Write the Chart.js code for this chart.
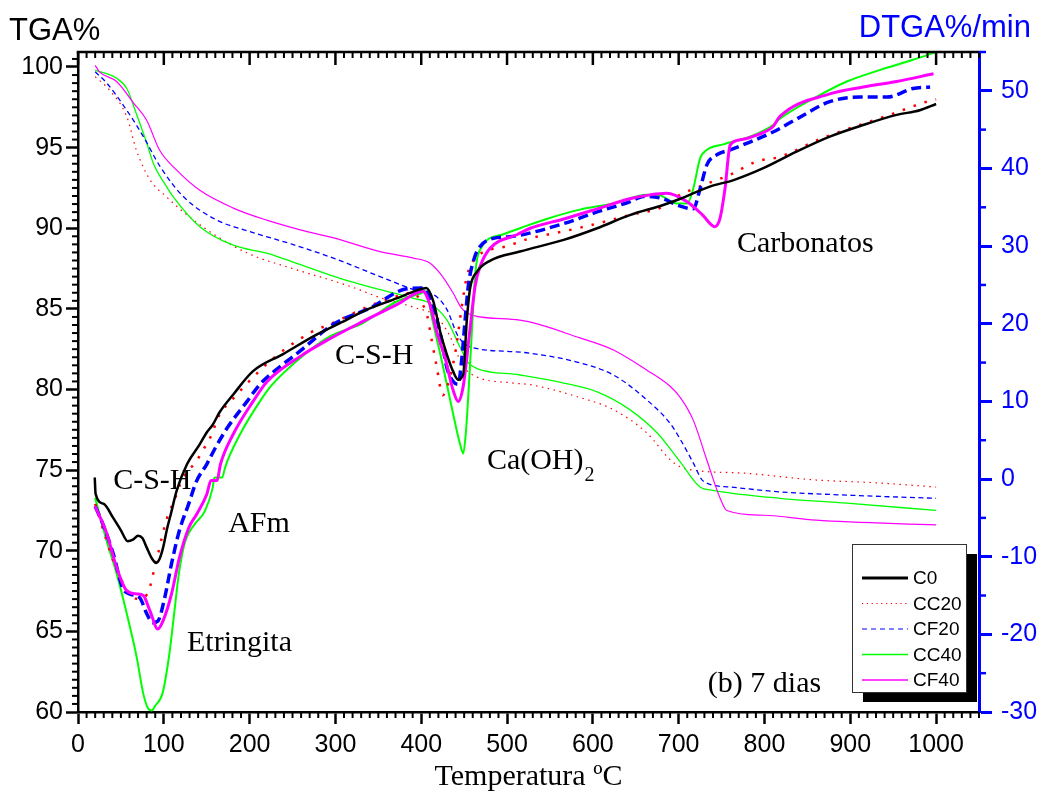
<!DOCTYPE html>
<html>
<head>
<meta charset="utf-8">
<title>TGA / DTGA - 7 dias</title>
<script src="https://cdn.jsdelivr.net/npm/chart.js@4"></script>
<style>
  html, body { margin: 0; padding: 0; background: #fff; }
</style>
</head>
<body>
<canvas id="tgaChart" width="1045" height="798"></canvas>
<script>
// mixes
const seriesNames = ['C0', 'CC20', 'CF20', 'CC40', 'CF40'];

// DTGA (%/min) per mix, right axis
const dtgaTempC0 = [19.5, 20.5, 30, 41, 50, 58, 64, 70, 75, 80, 86, 91, 95, 99, 104, 108, 115, 127, 142, 150, 157, 165, 181, 204, 239, 278, 313, 332, 372, 395, 406, 414, 422, 430, 437, 443, 449, 453, 457, 465, 480, 515, 566, 605, 643, 682, 702, 737, 764, 798, 838, 876, 915, 954, 981, 1000];
const dtgaC0 = [0.2, -1.9, -3.2, -5.0, -6.6, -8.0, -7.8, -7.3, -7.6, -8.8, -10.2, -10.8, -10.3, -8.9, -6.3, -4.6, -1.5, 1.9, 4.5, 6.0, 7.0, 8.6, 10.9, 13.9, 16.1, 18.6, 20.5, 21.6, 23.3, 24.3, 24.6, 22.9, 19.0, 16.0, 13.9, 12.8, 13.5, 20.3, 24.6, 26.7, 28.1, 29.3, 30.8, 32.3, 34.0, 35.3, 36.1, 37.7, 38.5, 40.0, 42.2, 44.1, 45.6, 46.9, 47.5, 48.3];

const dtgaTempCC20 = [20, 31, 41, 51, 60, 68, 76, 82, 86, 90, 94, 98, 102, 106, 111, 122, 138, 146, 154, 165, 181, 224, 270, 297, 340, 370, 390, 400, 407, 412, 418, 425, 432, 440, 447, 453, 462, 500, 527, 566, 605, 643, 682, 698, 725, 760, 791, 818, 865, 911, 946, 989, 1000];
const dtgaCC20 = [-3.2, -7.1, -10.5, -13.1, -14.8, -15.4, -15.3, -14.5, -13.0, -11.0, -9.3, -7.4, -5.7, -4.3, -3.1, 0.1, 2.3, 3.8, 5.3, 8.3, 10.4, 15.2, 18.8, 20.1, 22.3, 23.5, 24.0, 22.8, 21.0, 18.0, 14.5, 10.8, 12.5, 16.5, 22.0, 26.0, 28.3, 30.0, 31.0, 31.9, 32.9, 34.0, 35.1, 36.4, 37.7, 39.2, 40.9, 41.5, 43.8, 45.6, 46.9, 48.6, 48.9];

const dtgaTempCF20 = [20, 29, 41, 52, 60, 72, 80, 87, 93, 101, 109, 118, 129, 138, 150, 160, 174, 197, 212, 230, 259, 297, 340, 383, 402, 410, 418, 424, 430, 437, 443, 447, 451, 455, 462, 469, 484, 503, 566, 605, 643, 659, 682, 698, 717, 725, 733, 745, 760, 783, 810, 838, 876, 911, 943, 973, 993];
const dtgaCF20 = [-3.5, -5.8, -9.6, -14.0, -14.8, -15.3, -17.3, -18.5, -18.3, -15.3, -10.9, -6.7, -3.2, -0.3, 1.9, 4.0, 6.6, 10.0, 12.2, 14.0, 16.5, 19.9, 22.0, 24.5, 24.6, 23.3, 20.7, 17.7, 14.3, 12.6, 12.2, 15.2, 20.3, 25.0, 28.5, 30.0, 31.0, 31.2, 32.9, 34.4, 35.7, 36.4, 36.1, 35.3, 34.8, 37.4, 40.5, 41.8, 42.4, 43.4, 44.7, 46.4, 48.6, 49.2, 49.2, 50.3, 50.5];

const dtgaTempCC40 = [20, 33.5, 45, 57, 68.5, 76, 82, 86, 90, 98.5, 106.5, 112, 117.5, 125, 136, 148, 157, 159, 168, 171, 174, 189, 212, 225, 259, 294, 332, 372, 399, 406, 412, 424, 436, 445, 449, 452, 455, 459, 463, 470, 495, 515, 546, 585, 624, 663, 675, 698, 710, 717, 725, 733, 752, 783, 810, 818, 857, 896, 935, 973, 1000];
const dtgaCC40 = [-2.4, -8.0, -12.2, -17.4, -23.0, -27.6, -29.6, -29.8, -29.2, -27.6, -22.5, -17.4, -12.2, -8.0, -5.8, -4.1, -1.1, 0.2, 0.2, 1.3, 2.3, 5.8, 10.0, 12.0, 15.6, 18.4, 20.1, 22.9, 23.9, 24.2, 21.0, 15.2, 9.0, 4.6, 3.3, 6.0, 11.0, 19.0, 26.5, 29.8, 31.5, 32.3, 33.5, 34.7, 35.5, 36.6, 36.6, 35.5, 35.5, 37.4, 41.3, 42.4, 43.1, 44.1, 45.6, 46.4, 49.0, 51.2, 52.7, 54.0, 55.0];

const dtgaTempCF40 = [20, 33.5, 45, 57, 68.5, 76, 84, 93, 99, 109, 118, 129, 138.5, 150, 155, 162, 166, 181, 204, 220, 259, 294, 332, 372, 402, 410, 418, 428, 437, 443, 449, 456, 463, 469, 480, 512, 527, 566, 605, 643, 667, 686, 710, 728, 742, 748, 754, 760, 772, 791, 810, 818, 876, 915, 954, 997];
const dtgaCF40 = [-3.5, -7.0, -11.4, -14.4, -14.8, -15.0, -17.0, -19.3, -18.3, -14.8, -10.2, -6.3, -4.5, -2.0, -0.2, -0.2, 1.9, 5.8, 10.0, 12.5, 15.8, 18.1, 20.3, 22.5, 24.2, 22.5, 19.0, 15.5, 11.5, 10.0, 12.0, 18.5, 25.0, 27.5, 29.7, 31.5, 32.3, 33.5, 34.8, 36.1, 36.6, 36.8, 35.7, 34.0, 32.5, 33.5, 37.4, 43.0, 43.7, 44.3, 45.4, 46.7, 49.6, 50.5, 51.2, 52.2];

// TGA (%) per mix, left axis (no TGA run for C0)
const tgaTempCC20 = [20, 37, 57, 68, 84, 103, 130, 162, 200, 250, 317, 352, 391, 418, 434, 445, 457, 507, 527, 585, 624, 663, 690, 702, 717, 780, 857, 935, 1000];
const tgaCC20 = [99.4, 98.55, 96.9, 94.85, 93.0, 91.95, 90.7, 89.5, 88.4, 87.5, 86.4, 85.7, 85.1, 84.5, 83.25, 81.85, 81.0, 80.4, 80.3, 79.5, 78.75, 77.3, 75.65, 75.2, 75.0, 74.8, 74.4, 74.2, 73.95];

const tgaTempCF20 = [20, 33.5, 57, 76, 96, 123, 162, 200, 250, 300, 352, 391, 418, 430, 443, 457, 507, 527, 585, 624, 663, 690, 702, 717, 729, 760, 818, 896, 1000];
const tgaCF20 = [99.7, 99.0, 97.3, 95.7, 93.8, 91.95, 90.5, 89.8, 89.0, 88.1, 87.0, 86.2, 85.75, 84.95, 83.3, 82.65, 82.35, 82.25, 81.65, 80.9, 79.35, 77.9, 76.9, 75.45, 74.3, 73.95, 73.65, 73.45, 73.25];

const tgaTempCC40 = [20, 45, 57, 68, 80, 88, 103, 111, 142, 181, 220, 240, 280, 317, 352, 391, 410, 430, 445, 455, 465, 515, 566, 605, 643, 675, 702, 725, 740, 818, 896, 1000];
const tgaCC40 = [99.8, 99.3, 98.65, 97.1, 95.3, 94.0, 92.6, 91.95, 90.1, 88.95, 88.45, 88.1, 87.35, 86.7, 86.2, 85.65, 85.35, 84.3, 82.65, 81.65, 81.3, 80.9, 80.4, 79.85, 78.75, 77.3, 75.5, 73.95, 73.75, 73.25, 72.95, 72.5];

const tgaTempCF40 = [20, 25, 45, 65, 80, 95, 115, 142, 181, 220, 259, 298, 352, 391, 410, 422, 437, 447, 460, 515, 585, 624, 663, 690, 702, 717, 733, 748, 756, 800, 860, 1000];
const tgaCF40 = [100.1, 99.7, 99.1, 97.75, 96.7, 94.85, 93.6, 92.35, 91.25, 90.5, 89.9, 89.4, 88.55, 88.15, 87.85, 87.2, 86.0, 85.05, 84.6, 84.3, 83.2, 82.45, 81.2, 80.2, 79.5, 78.1, 75.6, 73.3, 72.5, 72.2, 71.9, 71.6];

// axis ticks
const tempTicks = [0, 100, 200, 300, 400, 500, 600, 700, 800, 900, 1000];
const tgaTicks = [60, 65, 70, 75, 80, 85, 90, 95, 100];
const dtgaTicks = [-30, -20, -10, 0, 10, 20, 30, 40, 50];

// line looks per mix
const colors = { C0: '#000000', CC20: '#ff0000', CF20: '#0000ff', CC40: '#00ff00', CF40: '#ff00ff' };
const thickStyle = {
  C0: { width: 2.5, dash: [] },
  CC20: { width: 2.5, dash: [2.5, 9] },
  CF20: { width: 3.5, dash: [10, 5] },
  CC40: { width: 2, dash: [] },
  CF40: { width: 3, dash: [] }
};
const thinStyle = {
  C0: { width: 3, dash: [] },
  CC20: { width: 1.2, dash: [1.5, 4.5] },
  CF20: { width: 1.3, dash: [5, 3.5] },
  CC40: { width: 1.3, dash: [] },
  CF40: { width: 1.2, dash: [] }
};

// text placed in the plot, at (°C, TGA%) baseline-left
const notes = [
  { text: 'C-S-H', t: 41, v: 73.8 },
  { text: 'AFm', t: 175, v: 71.15 },
  { text: 'Etringita', t: 127, v: 63.8 },
  { text: 'C-S-H', t: 299.5, v: 81.6 },
  { text: 'Ca(OH)', sub: '2', t: 476.5, v: 75.1 },
  { text: 'Carbonatos', t: 768, v: 88.5 },
  { text: '(b) 7 dias', t: 734, v: 61.25 }
];

function toPoints(xs, ys) {
  return xs.map((x, i) => ({ x: x, y: ys[i] }));
}

function lineSet(name, xs, ys, axis, style, isThick) {
  return {
    label: name,
    kind: isThick ? 'dtga' : 'tga',
    data: toPoints(xs, ys),
    yAxisID: axis,
    borderColor: colors[name],
    borderWidth: style.width,
    borderDash: style.dash,
    borderCapStyle: 'butt',
    pointRadius: 0,
    fill: false,
    cubicInterpolationMode: 'monotone'
  };
}

const datasets = [
  lineSet('C0', dtgaTempC0, dtgaC0, 'y1', thickStyle.C0, true),
  lineSet('CF40', dtgaTempCF40, dtgaCF40, 'y1', thickStyle.CF40, true),
  lineSet('CF20', dtgaTempCF20, dtgaCF20, 'y1', thickStyle.CF20, true),
  lineSet('CC20', dtgaTempCC20, dtgaCC20, 'y1', thickStyle.CC20, true),
  lineSet('CC40', dtgaTempCC40, dtgaCC40, 'y1', thickStyle.CC40, true),
  lineSet('CF40', tgaTempCF40, tgaCF40, 'y', thinStyle.CF40, false),
  lineSet('CF20', tgaTempCF20, tgaCF20, 'y', thinStyle.CF20, false),
  lineSet('CC40', tgaTempCC40, tgaCC40, 'y', thinStyle.CC40, false),
  lineSet('CC20', tgaTempCC20, tgaCC20, 'y', thinStyle.CC20, false)
];

function tick(ctx, x1, y1, x2, y2) {
  ctx.beginPath();
  ctx.moveTo(x1, y1);
  ctx.lineTo(x2, y2);
  ctx.stroke();
}

// top axis, minor ticks, titles, notes and the boxed legend
const frameDecor = {
  id: 'frameDecor',
  afterDraw(chart) {
    const { ctx, chartArea: a, scales } = chart;
    const sx = scales.x, sy = scales.y, sr = scales.y1;
    ctx.save();

    ctx.strokeStyle = '#000';
    ctx.lineWidth = 2.5;
    tick(ctx, a.left - 1.25, a.top, a.right, a.top);

    for (let t = 0; t <= 1050; t += 10) {
      const px = sx.getPixelForValue(t);
      const major = t % 100 === 0;
      ctx.lineWidth = major ? 2.5 : 2;
      tick(ctx, px, a.top, px, a.top + (major ? 13 : 6));
      if (!major) tick(ctx, px, a.bottom, px, a.bottom + 6);
    }

    ctx.lineWidth = 2;
    for (let v = 60.5; v < 101; v += 0.5) {
      if (v % 5 === 0) continue;
      const py = sy.getPixelForValue(v);
      tick(ctx, a.left, py, a.left - 6, py);
    }

    ctx.strokeStyle = '#0000ff';
    ctx.lineWidth = 2.5;
    for (let v = -25; v <= 55; v += 10) {
      const py = sr.getPixelForValue(v);
      tick(ctx, a.right, py, a.right + 7, py);
    }

    // axis captions
    ctx.textBaseline = 'alphabetic';
    ctx.font = '31px "Liberation Sans", Arial, sans-serif';
    ctx.fillStyle = '#000';
    ctx.textAlign = 'left';
    ctx.fillText('TGA%', 9, 40);
    ctx.fillStyle = '#0000ff';
    ctx.textAlign = 'right';
    ctx.fillText('DTGA%/min', 1031, 37);

    // notes
    ctx.fillStyle = '#000';
    ctx.textAlign = 'left';
    notes.forEach(n => {
      const px = sx.getPixelForValue(n.t);
      const py = sy.getPixelForValue(n.v);
      ctx.font = '30px "Liberation Serif", "Times New Roman", serif';
      ctx.fillText(n.text, px, py);
      if (n.sub) {
        const w = ctx.measureText(n.text).width;
        ctx.font = '20px "Liberation Serif", "Times New Roman", serif';
        ctx.fillText(n.sub, px + w + 1, py + 12);
      }
    });

    // legend box with drop shadow
    const bx = 852, by = 544, bw = 114, bh = 148;
    ctx.fillStyle = '#000';
    ctx.fillRect(bx + 11, by + 10, bw, bh);
    ctx.fillStyle = '#fff';
    ctx.fillRect(bx, by, bw, bh);
    ctx.strokeStyle = '#333';
    ctx.lineWidth = 1;
    ctx.strokeRect(bx + 0.5, by + 0.5, bw, bh);

    const legendStyle = {
      C0: { width: 3, dash: [] },
      CC20: { width: 1.2, dash: [1.2, 3.6] },
      CF20: { width: 1.2, dash: [5, 4] },
      CC40: { width: 1.5, dash: [] },
      CF40: { width: 1.5, dash: [] }
    };
    ctx.font = '19px "Liberation Sans", Arial, sans-serif';
    ctx.textBaseline = 'middle';
    seriesNames.forEach((name, i) => {
      const ly = 578 + i * 25.5;
      const st = legendStyle[name];
      ctx.strokeStyle = colors[name];
      ctx.lineWidth = st.width;
      ctx.setLineDash(st.dash);
      tick(ctx, 862, ly, 908, ly);
      ctx.setLineDash([]);
      ctx.fillStyle = '#000';
      ctx.fillText(name, 913, ly + 1);
    });

    ctx.restore();
  }
};

const ctx = document.getElementById('tgaChart').getContext('2d');
new Chart(ctx, {
  type: 'line',
  data: { datasets: datasets },
  options: {
    responsive: false,
    animation: false,
    events: [],
    layout: { padding: { top: 52, left: 0, right: 0, bottom: 0 } },
    plugins: {
      legend: { display: false },
      tooltip: { enabled: false }
    },
    scales: {
      x: {
        type: 'linear',
        position: 'bottom',
        min: 0,
        max: 1050,
        afterFit: s => { s.height = 86; },
        afterBuildTicks: s => { s.ticks = tempTicks.map(v => ({ value: v })); },
        ticks: {
          color: '#000',
          padding: 6,
          font: { size: 25, family: '"Liberation Sans", Arial, sans-serif' },
          callback: v => String(v)
        },
        grid: { drawOnChartArea: false, drawTicks: true, tickLength: 12, tickWidth: 2.5, tickColor: '#000' },
        border: { display: true, color: '#000', width: 2.5 },
        title: {
          display: true,
          text: 'Temperatura ºC',
          color: '#000',
          padding: { top: 0, bottom: 3 },
          font: { size: 30, family: '"Liberation Serif", "Times New Roman", serif' }
        }
      },
      y: {
        type: 'linear',
        position: 'left',
        min: 60,
        max: 100.93,
        afterFit: s => { s.width = 78; },
        afterBuildTicks: s => { s.ticks = tgaTicks.map(v => ({ value: v })); },
        ticks: {
          color: '#000',
          padding: 3,
          font: { size: 25, family: '"Liberation Sans", Arial, sans-serif' }
        },
        grid: { drawOnChartArea: false, drawTicks: true, tickLength: 12, tickWidth: 2.5, tickColor: '#000' },
        border: { display: true, color: '#000', width: 2.5 }
      },
      y1: {
        type: 'linear',
        position: 'right',
        min: -30,
        max: 55,
        afterFit: s => { s.width = 66; },
        afterBuildTicks: s => { s.ticks = dtgaTicks.map(v => ({ value: v })); },
        ticks: {
          color: '#0000ff',
          padding: 9,
          font: { size: 25, family: '"Liberation Sans", Arial, sans-serif' }
        },
        grid: { drawOnChartArea: false, drawTicks: true, tickLength: 13, tickWidth: 3, tickColor: '#0000ff' },
        border: { display: true, color: '#0000ff', width: 3 }
      }
    }
  },
  plugins: [frameDecor]
});
</script>
</body>
</html>
